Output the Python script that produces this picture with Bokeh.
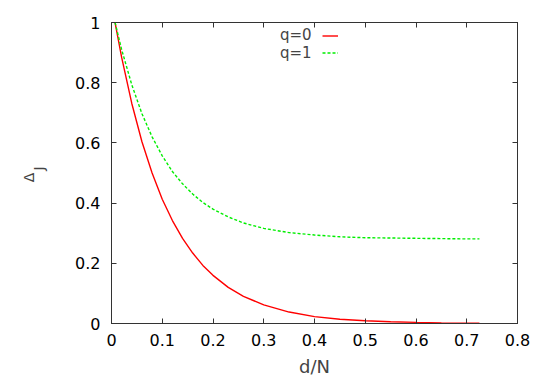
from bokeh.plotting import figure
from bokeh.models import Range1d, FixedTicker, LinearAxis, Label, Legend, LegendItem, ColumnDataSource
from bokeh.core.properties import value
from bokeh.embed import file_html
from bokeh.resources import INLINE

# ---- data ----
d_over_n = [0.007, 0.02, 0.04, 0.06, 0.08, 0.10, 0.12, 0.14, 0.16, 0.18, 0.20, 0.23,
            0.26, 0.30, 0.35, 0.40, 0.45, 0.50, 0.55, 0.60, 0.65, 0.70, 0.725]
delta_q0 = [1.0, 0.884, 0.731, 0.604, 0.500, 0.413, 0.342, 0.283, 0.234, 0.193, 0.160, 0.120,
            0.090, 0.062, 0.038, 0.023, 0.014, 0.009, 0.0057, 0.0036, 0.0022, 0.0014, 0.0011]
delta_q1 = [1.0, 0.910, 0.793, 0.697, 0.620, 0.557, 0.505, 0.464, 0.430, 0.402, 0.380, 0.354,
            0.334, 0.316, 0.302, 0.294, 0.288, 0.285, 0.284, 0.283, 0.282, 0.281, 0.281]
series_names = ["q=0", "q=1"]
x_ticks = [0, 0.1, 0.2, 0.3, 0.4, 0.5, 0.6, 0.7, 0.8]
x_tick_labels = ["0", "0.1", "0.2", "0.3", "0.4", "0.5", "0.6", "0.7", "0.8"]
y_ticks = [0, 0.2, 0.4, 0.6, 0.8, 1.0]
y_tick_labels = ["0", "0.2", "0.4", "0.6", "0.8", "1"]

FONT = "DejaVu Sans"
FS = "16px"
NBSP = "\u00a0"

p = figure(width=545, height=382, output_backend="svg", toolbar_location=None,
           x_range=Range1d(0, 0.8), y_range=Range1d(0, 1),
           min_border_left=111, min_border_right=28, min_border_top=22, min_border_bottom=59)
p.background_fill_color = "white"
p.border_fill_color = "white"
p.grid.visible = False
p.outline_line_color = "#333333"
p.outline_line_width = 1

src = ColumnDataSource(dict(x=d_over_n, y0=delta_q0, y1=delta_q1))
r0 = p.line("x", "y0", source=src, line_color="#ff0000", line_width=1.4)
r1 = p.line("x", "y1", source=src, line_color="#00ee00", line_width=1.4, line_dash="3 2")

def style_axis(ax, ticks, labels, show_labels=True, standoff=10):
    ax.ticker = FixedTicker(ticks=ticks)
    ax.major_tick_in = 5
    ax.major_tick_out = 0
    ax.minor_tick_line_color = None
    ax.axis_line_color = "#333333"
    ax.major_tick_line_color = "#333333"
    ax.major_label_text_font = FONT
    ax.major_label_text_color = "black"
    if show_labels:
        ax.major_label_overrides = {t: l for t, l in zip(ticks, labels)}
        ax.major_label_text_font_size = FS
        ax.major_label_standoff = standoff
    else:
        ax.major_label_overrides = {t: "" for t in ticks}
        ax.major_label_text_font_size = "0px"
        ax.major_label_standoff = 0

style_axis(p.xaxis[0], x_ticks, x_tick_labels, True, 10)
style_axis(p.yaxis[0], y_ticks, y_tick_labels, True, 11)

xa = p.xaxis[0]
xa.axis_label = "d/N"
xa.axis_label_text_font = FONT
xa.axis_label_text_font_size = "18px"
xa.axis_label_text_font_style = "normal"
xa.axis_label_standoff = 7

ya = p.yaxis[0]
ya.axis_label = "Δ" + NBSP * 2 + "\n" + NBSP * 2 + "J"
ya.axis_label_text_font = FONT
ya.axis_label_text_font_size = "14px"
ya.axis_label_text_font_style = "normal"
ya.axis_label_text_line_height = 0.63
ya.axis_label_standoff = 25

top_ax = LinearAxis()
right_ax = LinearAxis()
style_axis(top_ax, x_ticks, x_tick_labels, False)
style_axis(right_ax, y_ticks, y_tick_labels, False)
p.add_layout(top_ax, "above")
p.add_layout(right_ax, "right")

# legend (gnuplot style: text then sample)
leg = Legend(items=[LegendItem(label=value(" "), renderers=[r0]),
                    LegendItem(label=value(" "), renderers=[r1])],
             location=(211, 262.5), orientation="vertical", padding=0, margin=0,
             spacing=0, glyph_width=16, glyph_height=17, label_height=17,
             label_text_font_size="8px", label_standoff=0,
             border_line_color=None, background_fill_alpha=0)
p.add_layout(leg, "center")
p.add_layout(Label(x=0.3944, y=0.957, text=series_names[0], text_align="right",
                   text_baseline="middle", text_font=FONT, text_font_size="15px"))
p.add_layout(Label(x=0.3944, y=0.900, text=series_names[1], text_align="right",
                   text_baseline="middle", text_font=FONT, text_font_size="15px"))

open("out.html", "w").write(file_html(p, INLINE))
